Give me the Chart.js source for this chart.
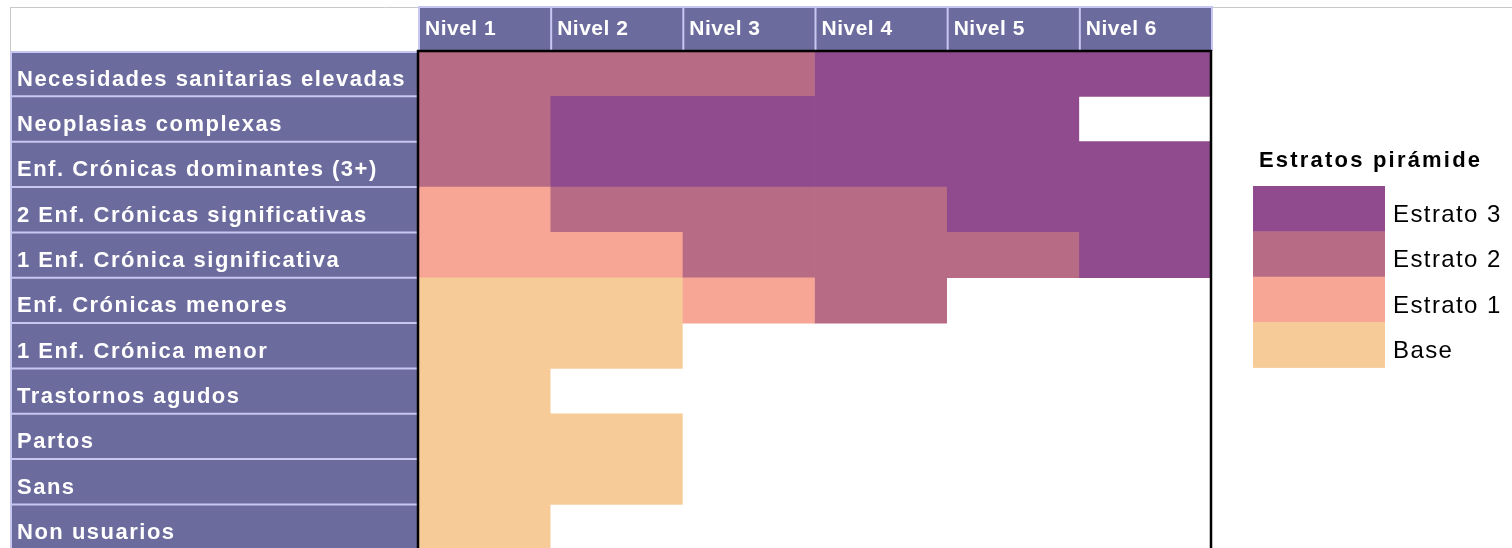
<!DOCTYPE html>
<html>
<head>
<meta charset="utf-8">
<script src="https://cdn.jsdelivr.net/npm/chart.js@4.4.1/dist/chart.umd.min.js"></script>
<style>
  html, body { margin: 0; padding: 0; background: #fff; overflow: hidden; }
  #wrap { width: 1512px; height: 566px; }
</style>
</head>
<body>
<div id="wrap"><canvas id="grid" width="1512" height="566"></canvas></div>
<script>
// Rows of the table (top to bottom)
const categories = [
  "Necesidades sanitarias elevadas",
  "Neoplasias complexas",
  "Enf. Crónicas dominantes (3+)",
  "2 Enf. Crónicas significativas",
  "1 Enf. Crónica significativa",
  "Enf. Crónicas menores",
  "1 Enf. Crónica menor",
  "Trastornos agudos",
  "Partos",
  "Sans",
  "Non usuarios",
];

// Columns
const levels = ["Nivel 1", "Nivel 2", "Nivel 3", "Nivel 4", "Nivel 5", "Nivel 6"];

// Pyramid strata, index 0 = Base ... 3 = Estrato 3
const strata = ["Base", "Estrato 1", "Estrato 2", "Estrato 3"];
const strataColors = ["#F6CB98", "#F7A595", "#B76B84", "#8F4B8D"];

// Stratum of each row for every level (null = no cell)
const nivel1 = [2, 2, 2, 1, 1, 0, 0, 0, 0, 0, 0];
const nivel2 = [2, 3, 3, 2, 1, 0, 0, null, 0, 0, null];
const nivel3 = [2, 3, 3, 2, 2, 1, null, null, null, null, null];
const nivel4 = [3, 3, 3, 2, 2, 2, null, null, null, null, null];
const nivel5 = [3, 3, 3, 3, 2, null, null, null, null, null, null];
const nivel6 = [3, null, 3, 3, 3, null, null, null, null, null, null];
const columns = [nivel1, nivel2, nivel3, nivel4, nivel5, nivel6];

const headerFill = "#6C6B9D";
const lavender = "#C7C7F2";
const rowFont = { family: "'Liberation Sans', Arial, sans-serif", size: 22, weight: "bold" };
const headFont = { family: "'Liberation Sans', Arial, sans-serif", size: 21, weight: "bold" };

// Header cells, label column and the outer frame
const tableFrame = {
  id: "tableFrame",
  beforeDraw(chart) {
    const { ctx, chartArea: a, scales: { x, y } } = chart;
    const rowH = (a.bottom - a.top) / categories.length;
    ctx.save();
    ctx.strokeStyle = "#C9C9C9";
    ctx.lineWidth = 1;
    ctx.beginPath();
    ctx.moveTo(10, 7.5);
    ctx.lineTo(chart.width, 7.5);
    ctx.moveTo(10.5, 7);
    ctx.lineTo(10.5, a.top);
    ctx.stroke();

    ctx.fillStyle = headerFill;
    ctx.fillRect(a.left, 6, a.right - a.left, a.top - 6);
    ctx.fillRect(10, a.top, a.left - 10, a.bottom - a.top);

    ctx.strokeStyle = lavender;
    ctx.lineWidth = 2;
    ctx.beginPath();
    for (let j = 0; j <= levels.length; j++) {
      const px = x.getPixelForValue(j) + 1;
      ctx.moveTo(px, 6);
      ctx.lineTo(px, a.top);
    }
    ctx.moveTo(a.left, 7);
    ctx.lineTo(a.right, 7);
    ctx.moveTo(10, a.top + 1);
    ctx.lineTo(a.left, a.top + 1);
    ctx.moveTo(11, a.top);
    ctx.lineTo(11, a.bottom);
    categories.forEach((_, i) => {
      const py = y.getPixelForValue(i) + rowH / 2;
      ctx.moveTo(10, py);
      ctx.lineTo(a.left, py);
    });
    ctx.stroke();
    ctx.restore();
    ctx.letterSpacing = "1.5px"; // row labels
  },
  afterDatasetsDraw(chart) {
    const { ctx, chartArea: a } = chart;
    ctx.save();
    ctx.strokeStyle = "#000";
    ctx.lineWidth = 2.5;
    ctx.strokeRect(a.left, a.top, a.right - a.left, a.bottom - a.top);
    ctx.restore();
    ctx.letterSpacing = "0.5px"; // header labels (drawn after datasets)
  },
  afterDraw(chart) {
    const { ctx, chartArea: a } = chart;
    const rowH = (a.bottom - a.top) / categories.length;
    const boxX = a.right + 42;
    const boxTop = 186;
    ctx.save();
    ctx.fillStyle = "#000";
    ctx.textBaseline = "alphabetic";
    ctx.letterSpacing = "2.2px";
    ctx.font = "bold 22px 'Liberation Sans', Arial, sans-serif";
    ctx.fillText("Estratos pirámide", 1259, 167);
    ctx.letterSpacing = "1.4px";
    ctx.font = "24px 'Liberation Sans', Arial, sans-serif";
    strata.slice().reverse().forEach((name, k) => {
      const top = boxTop + k * rowH;
      ctx.fillStyle = strataColors[strata.length - 1 - k];
      ctx.fillRect(boxX, top, 132, rowH + 0.5);
      ctx.fillStyle = "#000";
      ctx.fillText(name, boxX + 140, top + 36);
    });
    ctx.restore();
    ctx.letterSpacing = "0px";
  },
};

new Chart(document.getElementById("grid"), {
  type: "bar",
  plugins: [tableFrame],
  data: {
    labels: categories,
    datasets: columns.map((col, j) => ({
      label: levels[j],
      data: col.map((s) => (s === null ? null : 1)),
      backgroundColor: col.map((s) => (s === null ? "rgba(0,0,0,0)" : strataColors[s])),
      borderWidth: 0,
      barPercentage: 1,
      categoryPercentage: 1,
    })),
  },
  options: {
    indexAxis: "y",
    responsive: false,
    animation: false,
    layout: { padding: { left: 17, top: 7, right: 301, bottom: 0 } },
    plugins: {
      legend: { display: false },
      tooltip: { enabled: false },
    },
    scales: {
      x: {
        type: "linear",
        position: "top",
        stacked: true,
        min: 0,
        max: levels.length,
        grid: { display: false, drawTicks: false },
        border: { display: false },
        afterFit: (scale) => { scale.height = 44; },
        ticks: {
          stepSize: 1,
          autoSkip: false,
          maxRotation: 0,
          align: "start",
          labelOffset: 7,
          padding: 9,
          z: 1,
          color: "#fff",
          font: headFont,
          callback: (v) => levels[v] ?? "",
        },
      },
      y: {
        stacked: true,
        grid: { display: false, drawTicks: false },
        border: { display: false },
        afterFit: (scale) => { scale.width = 401; },
        ticks: {
          crossAlign: "far",
          labelOffset: 6,
          autoSkip: false,
          color: "#fff",
          font: rowFont,
        },
      },
    },
  },
});
</script>
</body>
</html>
